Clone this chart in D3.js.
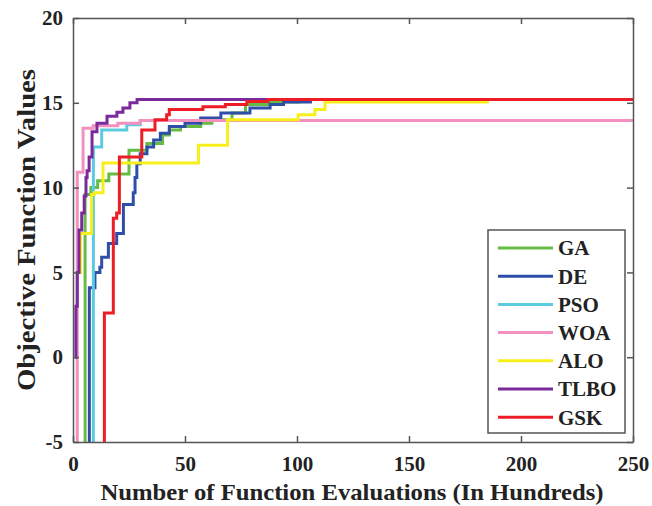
<!DOCTYPE html>
<html>
<head>
<meta charset="utf-8">
<script src="https://d3js.org/d3.v7.min.js"></script>
<style>
body { margin: 0; background: #fff; }
text { font-family: "Liberation Serif", "Times New Roman", serif; font-weight: bold; fill: #222; }
</style>
</head>
<body>
<svg id="chart"></svg>
<script>
// algorithm names, drawing order = legend order
var names = ["GA", "DE", "PSO", "WOA", "ALO", "TLBO", "GSK"];
var colors = ["#66bb44", "#2f4ea8", "#5ccbe0", "#f291bf", "#f7ef1c", "#7a2a9a", "#ee1c24"];

// convergence curves: [evaluations (hundreds), objective value], step after each point
var gaData = [[0,-10],[5.4,9.6],[8,10],[11,10.4],[16,10.8],[25,12.2],[33,12.6],[40,13.1],[43,13.4],[48,13.6],[57,13.8],[62,14.0],[71,14.4],[77,14.9],[87,15.05],[101,15.2],[250,15.2]];
var deData = [[0,-10],[7.3,4.1],[9.8,5.0],[12,5.3],[12.8,5.9],[15.8,6.7],[19.5,7.3],[22.5,9.0],[26.9,9.7],[27.7,10.6],[28.5,11.4],[30,12.0],[33,12.4],[36,12.8],[39,13.2],[43,13.6],[50,13.8],[57,14.1],[66,14.4],[79,14.7],[88,14.9],[94,15.05],[106,15.2],[250,15.2]];
var psoData = [[0,-10],[9.1,12.4],[12.8,13.4],[24,13.7],[30,13.95],[250,13.95]];
var woaData = [[0,-10],[1.9,10.9],[4.5,13.5],[9,13.65],[20,13.8],[30,13.95],[250,13.95]];
var aloData = [[3.1,5.0],[3.3,7.3],[8.3,9.6],[9.5,9.7],[13.4,11.45],[56,12.5],[69,14.0],[100.5,14.3],[108,14.6],[112.5,15.05],[185,15.2],[250,15.2]];
var tlboData = [[0.9,0],[1.3,3],[1.9,5],[2.7,7.5],[3.9,8.5],[5,9.5],[5.8,10.6],[6.3,11.0],[7.2,11.8],[8.5,13.3],[10.7,13.8],[15.2,14.2],[19.6,14.45],[22.3,14.7],[25.4,15.0],[28.6,15.2],[250,15.2]];
var gskData = [[0,-10],[14,2.6],[18,8.2],[19.5,8.5],[20.7,11.8],[30.7,13.4],[36.6,14.0],[41.8,14.3],[43,14.6],[58,14.77],[68,14.9],[77.6,15.07],[87,15.2],[250,15.2]];

var xTicks = [0, 50, 100, 150, 200, 250];
var yTicks = [-5, 0, 5, 10, 15, 20];

var allData = [gaData, deData, psoData, woaData, aloData, tlboData, gskData];

var svgWidth = 652, svgHeight = 506;
var margin = {top: 18, right: 19, bottom: 64, left: 73};
var width = svgWidth - margin.left - margin.right,
    height = svgHeight - margin.top - margin.bottom;

var svg = d3.select("#chart")
  .attr("width", svgWidth)
  .attr("height", svgHeight);

var x = d3.scaleLinear().domain([0, 250]).range([0, width]);
var y = d3.scaleLinear().domain([-5, 20]).range([height, 0]);

svg.append("defs").append("clipPath")
  .attr("id", "clip")
  .append("rect")
  .attr("width", width)
  .attr("height", height);

var g = svg.append("g")
  .attr("transform", "translate(" + margin.left + "," + margin.top + ")");

var line = d3.line()
  .x(function(d) { return x(d[0]); })
  .y(function(d) { return y(d[1]); })
  .curve(d3.curveStepAfter);

// curves
g.append("g")
  .attr("clip-path", "url(#clip)")
  .selectAll("path")
  .data(allData)
  .enter().append("path")
  .attr("fill", "none")
  .attr("stroke", function(d, i) { return colors[i]; })
  .attr("stroke-width", 3)
  .attr("d", line);

// axes, ticks pointing inward like matlab
var axisColor = "#555";
var plain = function(d) { return String(d); };

var xAxis = g.append("g")
  .attr("transform", "translate(0," + height + ")")
  .call(d3.axisBottom(x).tickValues(xTicks).tickSizeInner(-6).tickSizeOuter(0).tickPadding(14).tickFormat(plain));
var yAxis = g.append("g")
  .call(d3.axisLeft(y).tickValues(yTicks).tickSizeInner(-6).tickSizeOuter(0).tickPadding(10).tickFormat(plain));
g.append("g")
  .call(d3.axisTop(x).tickValues(xTicks).tickSizeInner(-6).tickSizeOuter(0).tickFormat(""));
g.append("g")
  .attr("transform", "translate(" + width + ",0)")
  .call(d3.axisRight(y).tickValues(yTicks).tickSizeInner(-6).tickSizeOuter(0).tickFormat(""));

g.selectAll(".domain, .tick line")
  .attr("stroke", axisColor)
  .attr("stroke-width", 1.5);

[xAxis, yAxis].forEach(function(a) {
  a.attr("font-family", "Liberation Serif")
    .attr("font-size", 21)
    .attr("font-weight", "bold");
  a.selectAll("text")
    .style("font-family", "'Liberation Serif', serif")
    .style("font-weight", "bold")
    .style("font-size", "21px")
    .attr("fill", "#222");
});

// axis titles
svg.append("text")
  .attr("x", 352)
  .attr("y", 500)
  .attr("text-anchor", "middle")
  .attr("textLength", 503)
  .attr("lengthAdjust", "spacingAndGlyphs")
  .style("font-size", "24px")
  .text("Number of Function Evaluations (In Hundreds)");

svg.append("text")
  .attr("transform", "translate(35,230) rotate(-90)")
  .attr("text-anchor", "middle")
  .attr("textLength", 322)
  .attr("lengthAdjust", "spacingAndGlyphs")
  .style("font-size", "26px")
  .text("Objective Function Values");

// legend
var legend = g.append("g")
  .attr("transform", "translate(" + (488 - margin.left) + "," + (230 - margin.top) + ")");

legend.append("rect")
  .attr("width", 137)
  .attr("height", 203)
  .attr("fill", "#fff")
  .attr("stroke", axisColor)
  .attr("stroke-width", 1.5);

var item = legend.selectAll(".item")
  .data(names)
  .enter().append("g")
  .attr("class", "item")
  .attr("transform", function(d, i) { return "translate(0," + (18 + i * 28.2) + ")"; });

item.append("line")
  .attr("x1", 10)
  .attr("x2", 65)
  .attr("stroke", function(d, i) { return colors[i]; })
  .attr("stroke-width", 3);

item.append("text")
  .attr("x", 70)
  .attr("dy", "0.35em")
  .style("font-size", "21px")
  .text(function(d) { return d; });
</script>
</body>
</html>
